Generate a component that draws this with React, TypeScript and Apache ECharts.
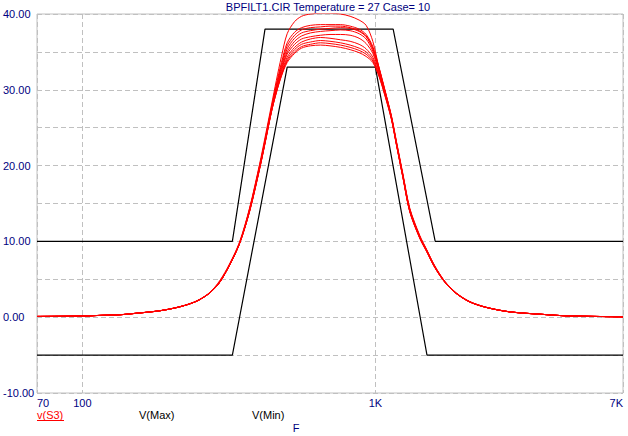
import React, { useEffect, useRef } from 'react';
import * as echarts from 'echarts';

const freqs = [70, 100, 115, 134, 151, 184, 215, 245, 272, 294, 318, 344, 372, 403, 419, 442, 459, 478, 500, 530, 560, 600, 650, 700, 760, 820, 880, 930, 980, 1030, 1076, 1134, 1180, 1243, 1310, 1417, 1493, 1594, 1725, 1890, 2099, 2393, 2873, 3733, 4487, 7000];

const case1 = [0.1, 0.15, 0.24, 0.33, 0.51, 0.87, 1.4, 2.14, 3.26, 4.8, 7.05, 9.95, 14.4, 20.3, 23.5, 28.0, 31.2, 34.4, 37.4, 39.0, 39.7, 40.0, 40.1, 40.1, 40.0, 39.7, 39.2, 38.5, 36.4, 32.8, 30.0, 26.6, 23.2, 18.8, 14.4, 10.8, 9.0, 6.8, 4.75, 3.2, 2.07, 1.31, 0.72, 0.37, 0.18, 0.05];
const case2 = [0.1, 0.15, 0.24, 0.32, 0.5, 0.86, 1.38, 2.12, 3.23, 4.7, 6.95, 9.85, 14.3, 20.1, 23.2, 27.7, 30.7, 33.6, 36.2, 37.6, 38.2, 38.5, 38.6, 38.6, 38.6, 38.4, 38.0, 37.3, 35.7, 32.9, 30.1, 26.5, 23.1, 18.7, 14.3, 10.7, 8.95, 6.75, 4.72, 3.17, 2.05, 1.3, 0.71, 0.37, 0.18, 0.05];
const case3 = [0.1, 0.15, 0.24, 0.32, 0.5, 0.85, 1.37, 2.1, 3.2, 4.6, 6.9, 9.75, 14.2, 20.0, 23.1, 27.6, 30.5, 33.3, 35.8, 37.2, 37.9, 38.2, 38.3, 38.4, 38.4, 38.2, 37.8, 37.1, 35.5, 32.8, 30.0, 26.5, 23.0, 18.6, 14.2, 10.65, 8.9, 6.7, 4.7, 3.15, 2.04, 1.3, 0.71, 0.37, 0.18, 0.05];
const case4 = [0.1, 0.15, 0.24, 0.32, 0.5, 0.85, 1.37, 2.1, 3.2, 4.6, 6.9, 9.75, 14.15, 19.9, 23.0, 27.5, 30.3, 33.0, 35.4, 36.8, 37.5, 37.8, 38.0, 38.1, 38.2, 38.1, 37.7, 37.0, 35.4, 32.7, 29.9, 26.4, 23.0, 18.6, 14.2, 10.6, 8.9, 6.7, 4.7, 3.14, 2.03, 1.29, 0.71, 0.37, 0.18, 0.05];
const case5 = [0.1, 0.15, 0.24, 0.32, 0.5, 0.85, 1.36, 2.09, 3.18, 4.57, 6.85, 9.7, 14.05, 19.8, 22.9, 27.4, 30.1, 32.7, 35.0, 36.4, 37.1, 37.5, 37.7, 37.8, 37.9, 37.8, 37.4, 36.7, 35.1, 32.5, 29.8, 26.4, 22.9, 18.5, 14.1, 10.6, 8.85, 6.65, 4.68, 3.13, 2.03, 1.29, 0.71, 0.37, 0.18, 0.05];
const case6 = [0.1, 0.15, 0.24, 0.32, 0.5, 0.85, 1.37, 2.1, 3.2, 4.6, 6.9, 9.75, 14.0, 19.75, 22.85, 27.3, 30.0, 32.5, 34.7, 36.0, 36.7, 37.0, 37.2, 37.3, 37.3, 37.2, 36.8, 36.1, 34.8, 32.3, 29.7, 26.3, 22.9, 18.5, 14.1, 10.55, 8.85, 6.65, 4.67, 3.13, 2.02, 1.29, 0.71, 0.37, 0.18, 0.05];
const case7 = [0.1, 0.15, 0.24, 0.32, 0.5, 0.85, 1.37, 2.1, 3.2, 4.6, 6.9, 9.75, 14.1, 19.85, 22.9, 27.2, 29.8, 32.2, 34.3, 35.6, 36.3, 36.7, 36.9, 36.8, 36.6, 36.4, 36.0, 35.4, 34.3, 32.1, 29.6, 26.3, 22.8, 18.4, 14.0, 10.5, 8.8, 6.6, 4.65, 3.12, 2.02, 1.28, 0.7, 0.37, 0.18, 0.05];
const case8 = [0.1, 0.15, 0.24, 0.32, 0.5, 0.85, 1.37, 2.1, 3.2, 4.6, 6.9, 9.75, 14.0, 19.7, 22.8, 27.2, 29.7, 32.0, 34.0, 35.3, 36.0, 36.3, 36.5, 36.4, 36.2, 35.9, 35.5, 35.0, 34.0, 31.9, 29.5, 26.2, 22.8, 18.4, 14.0, 10.5, 8.8, 6.6, 4.65, 3.12, 2.01, 1.28, 0.7, 0.37, 0.18, 0.05];
const case9 = [0.1, 0.15, 0.24, 0.32, 0.5, 0.85, 1.37, 2.1, 3.2, 4.6, 6.9, 9.75, 13.95, 19.65, 22.75, 27.1, 29.6, 31.9, 33.8, 35.0, 35.7, 36.0, 36.2, 36.1, 35.9, 35.6, 35.2, 34.7, 33.8, 31.8, 29.4, 26.2, 22.75, 18.35, 13.95, 10.45, 8.75, 6.6, 4.63, 3.11, 2.01, 1.28, 0.7, 0.37, 0.18, 0.05];
const case10 = [0.1, 0.15, 0.24, 0.32, 0.5, 0.85, 1.37, 2.1, 3.2, 4.6, 6.9, 9.75, 13.9, 19.6, 22.7, 27.1, 29.6, 31.8, 33.6, 34.8, 35.5, 35.8, 35.9, 35.8, 35.6, 35.3, 34.9, 34.4, 33.6, 31.7, 29.3, 26.1, 22.7, 18.3, 13.9, 10.4, 8.7, 6.55, 4.6, 3.1, 2.0, 1.27, 0.7, 0.36, 0.18, 0.05];

const cases = [case1, case2, case3, case4, case5, case6, case7, case8, case9, case10];

const vMaxF = [70, 325, 420, 1150, 1600, 7000];
const vMaxV = [10, 10, 38, 38, 10, 10];
const vMinF = [70, 325, 500, 1000, 1500, 7000];
const vMinV = [-5, -5, 33, 33, -5, -5];

const titleText = 'BPFILT1.CIR Temperature = 27 Case= 10';
const legendNames = ['v(S3)', 'V(Max)', 'V(Min)'];
const xAxisName = 'F';

const NAVY = '#000080';
const GRID = '#c0c0c0';
const FONT = 'Liberation Sans, Arial, sans-serif';

export default function App() {
  const ref = useRef<HTMLDivElement>(null);
  useEffect(() => {
    if (!ref.current) return;
    const chart = echarts.init(ref.current, undefined, { renderer: 'svg' });
    const redSeries = cases.map((c, k) => ({
      name: legendNames[0],
      id: 'case' + (k + 1),
      type: 'line',
      data: freqs.map((f, i) => [f, c[i]]),
      showSymbol: false,
      symbol: 'none',
      smooth: 0.3,
      lineStyle: { color: '#ff0000', width: 1 },
      z: 3,
    }));
    chart.setOption({
      animation: false,
      backgroundColor: '#ffffff',
      grid: {
        left: 37,
        right: 5,
        top: 14,
        bottom: 43,
        show: true,
        borderColor: GRID,
        borderWidth: 1,
        backgroundColor: 'transparent',
      },
      xAxis: {
        type: 'log',
        logBase: 10,
        min: 70,
        max: 7000,
        axisLine: { show: false },
        axisTick: { show: false },
        splitLine: { show: true, lineStyle: { color: GRID, type: [5, 3], width: 1 } },
        axisLabel: {
          color: NAVY,
          fontSize: 11,
          fontFamily: FONT,
          margin: 4,
          alignMinLabel: 'left',
          alignMaxLabel: 'right',
          formatter: (v: number) => (v >= 1000 ? Math.round(v / 1000) + 'K' : String(Math.round(v))),
        },
      },
      yAxis: {
        type: 'value',
        min: -10,
        max: 40,
        interval: 5,
        axisLine: { show: false },
        axisTick: { show: false },
        splitLine: { show: true, lineStyle: { color: GRID, type: [5, 3], width: 1 } },
        axisLabel: {
          color: NAVY,
          fontSize: 11,
          fontFamily: FONT,
          margin: 34,
          align: 'left',
          formatter: (v: number) => (Math.round(v) % 10 === 0 ? v.toFixed(2) : ''),
        },
      },
      graphic: [
        {
          type: 'text',
          x: 328,
          y: 7,
          style: { text: titleText, fill: NAVY, font: '11px ' + FONT, textAlign: 'center', textVerticalAlign: 'middle' },
        },
        {
          type: 'text',
          x: 37,
          y: 415,
          style: { text: legendNames[0], fill: '#ff0000', font: '11px ' + FONT, textAlign: 'left', textVerticalAlign: 'middle' },
        },
        {
          type: 'line',
          shape: { x1: 37, y1: 420.5, x2: 64, y2: 420.5 },
          style: { stroke: '#ff0000', lineWidth: 1 },
        },
        {
          type: 'text',
          x: 139,
          y: 415,
          style: { text: legendNames[1], fill: '#000000', font: '11px ' + FONT, textAlign: 'left', textVerticalAlign: 'middle' },
        },
        {
          type: 'text',
          x: 252,
          y: 415,
          style: { text: legendNames[2], fill: '#000000', font: '11px ' + FONT, textAlign: 'left', textVerticalAlign: 'middle' },
        },
        {
          type: 'text',
          x: 296,
          y: 428,
          style: { text: xAxisName, fill: NAVY, font: '11px ' + FONT, textAlign: 'center', textVerticalAlign: 'middle' },
        },
      ],
      series: [
        {
          name: legendNames[1],
          type: 'line',
          data: vMaxF.map((f, i) => [f, vMaxV[i]]),
          symbol: 'none',
          lineStyle: { color: '#000000', width: 1.2 },
          z: 2,
        },
        {
          name: legendNames[2],
          type: 'line',
          data: vMinF.map((f, i) => [f, vMinV[i]]),
          symbol: 'none',
          lineStyle: { color: '#000000', width: 1.2 },
          z: 2,
        },
        ...redSeries,
      ],
    });
    return () => chart.dispose();
  }, []);
  return (
    <div
      ref={ref}
      style={{ position: 'absolute', left: 0, top: 0, width: 628, height: 436, background: '#fff' }}
    />
  );
}
